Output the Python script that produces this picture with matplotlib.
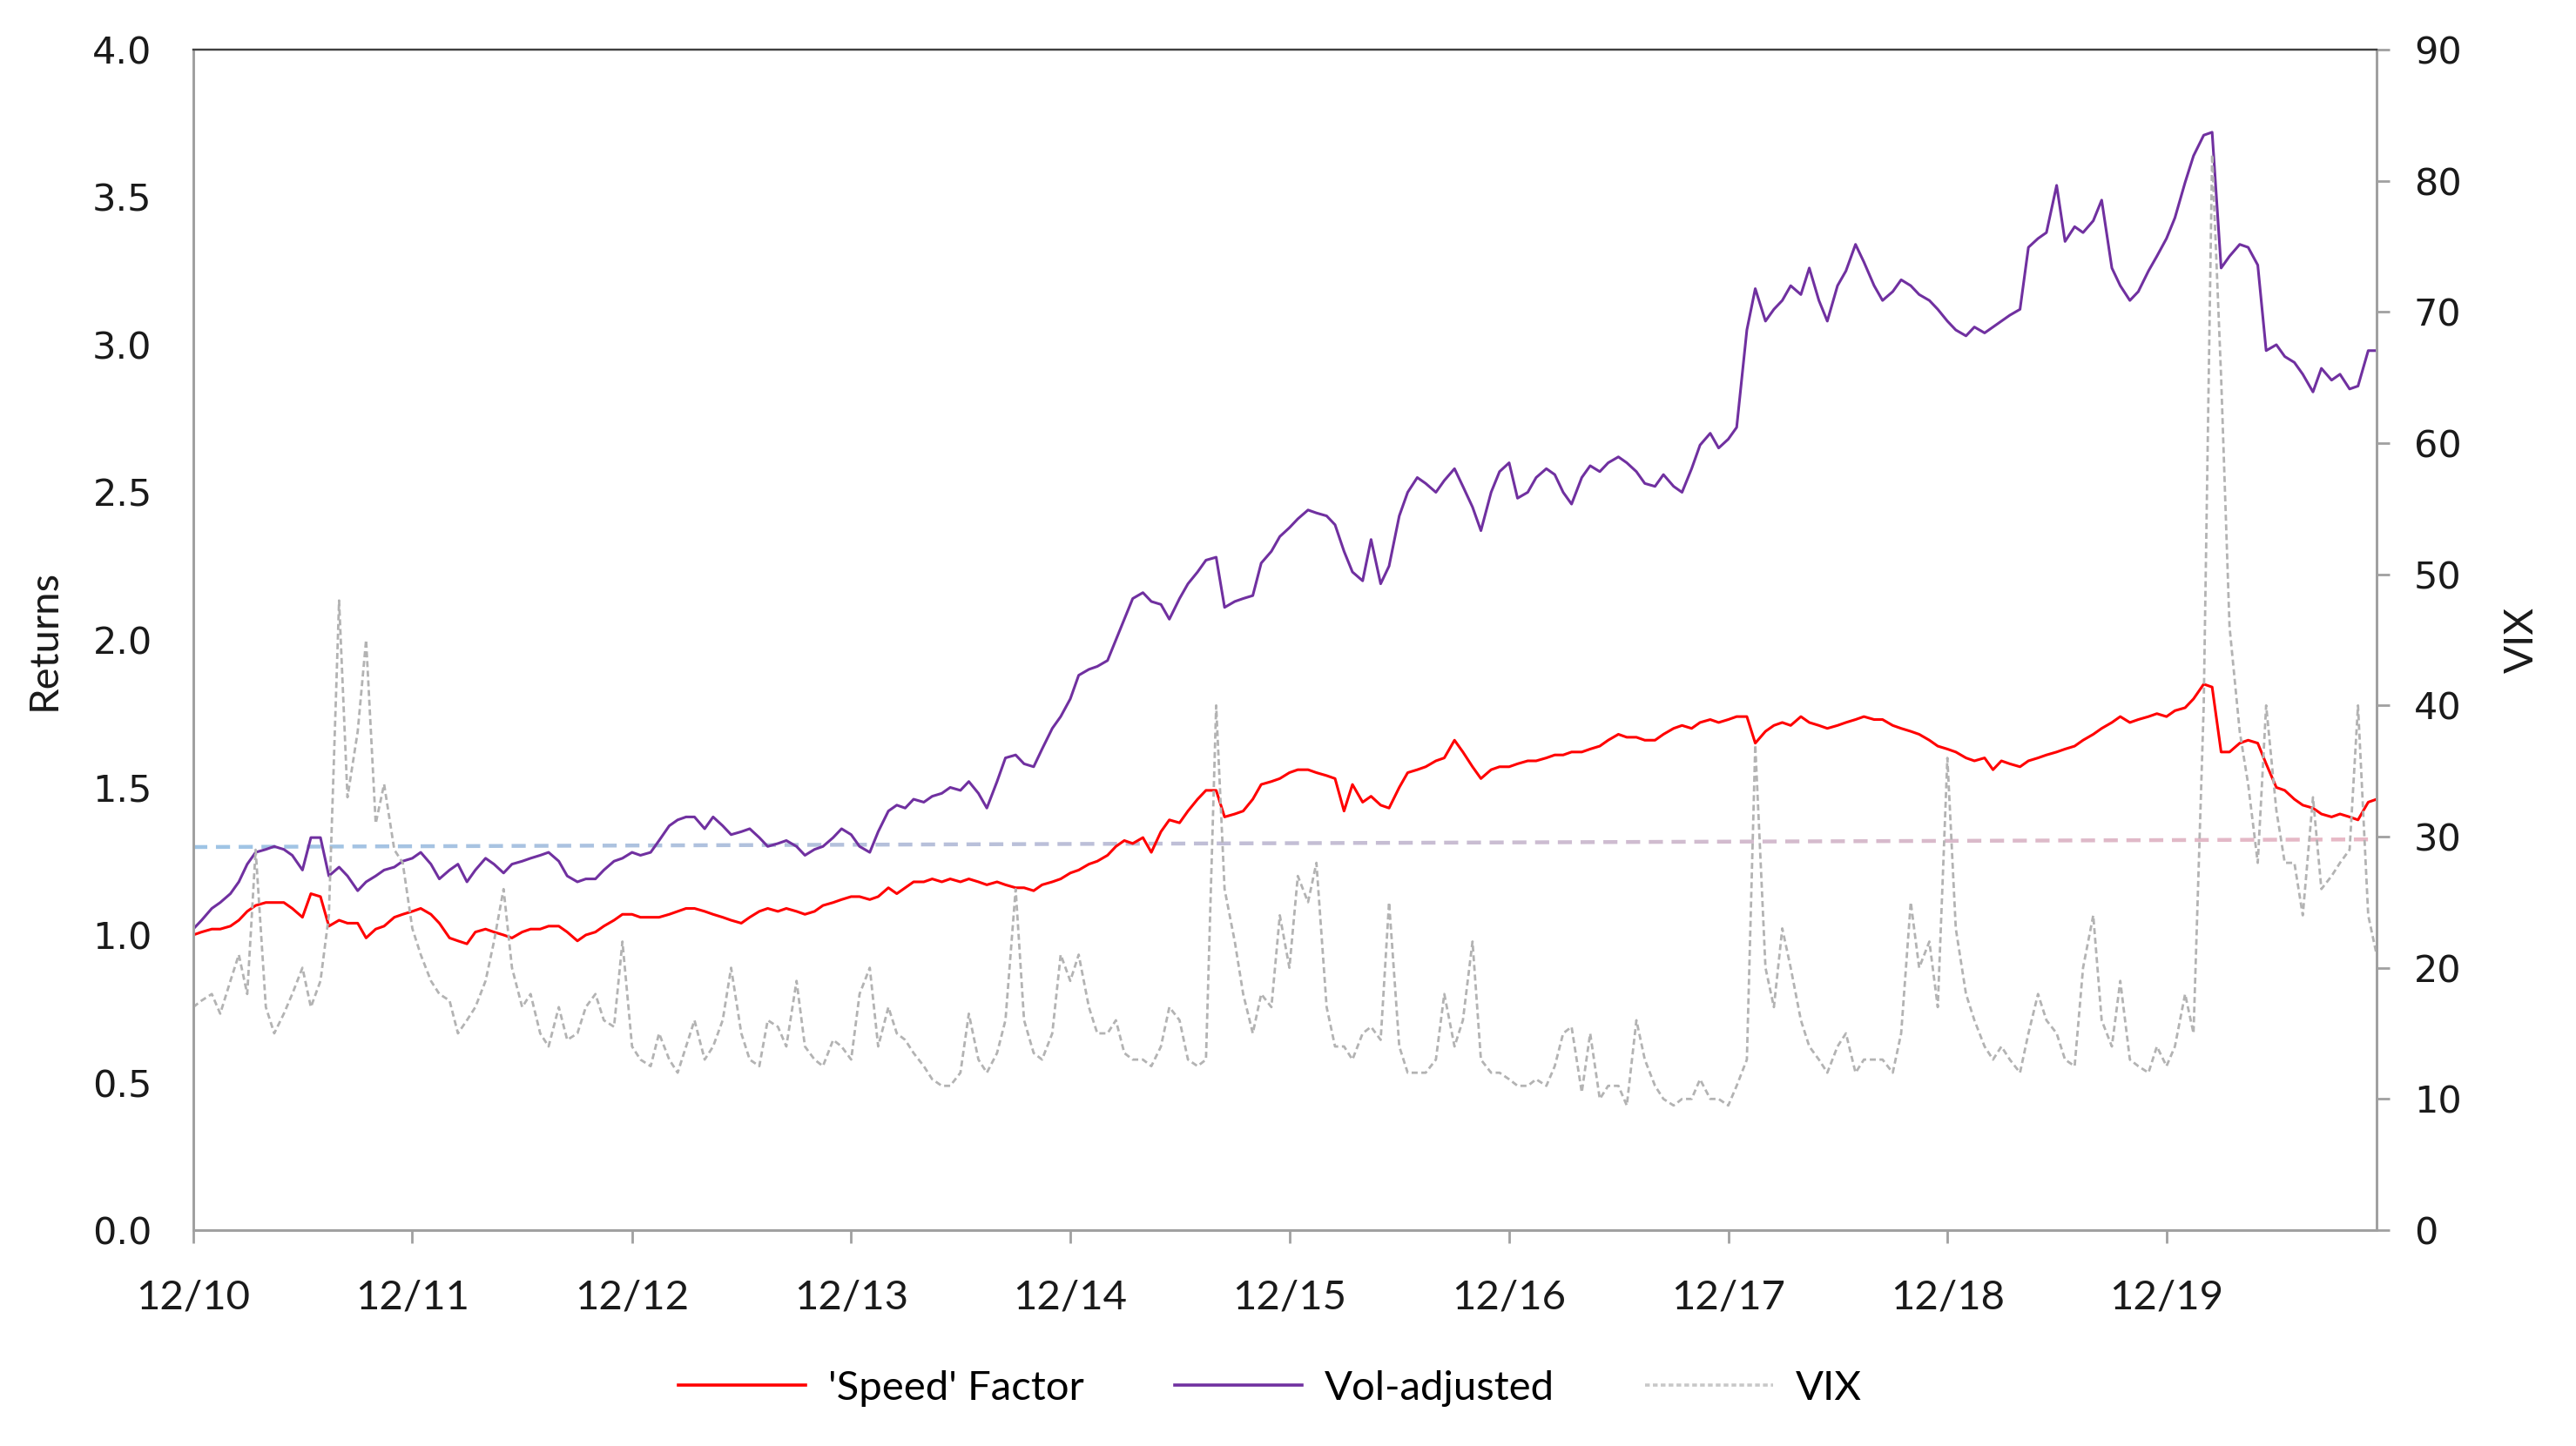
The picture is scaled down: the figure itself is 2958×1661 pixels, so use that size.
import matplotlib
matplotlib.use("Agg")
import matplotlib.pyplot as plt
from matplotlib.collections import LineCollection
from matplotlib.lines import Line2D
import numpy as np
import pandas as pd

# ---------------- data (semi-monthly readings, Dec 2010 - Nov 2020) ----------------
dates = pd.date_range("2010-12-01", periods=240, freq="SMS")

speed_factor = [
    1.00, 1.01, 1.02, 1.02, 1.03, 1.05, 1.08, 1.10, 1.11, 1.11, 1.11, 1.09, 1.06, 1.14, 1.13, 1.03, 1.05, 1.04, 1.04, 0.99, 1.02, 1.03, 1.06, 1.07,
    1.08, 1.09, 1.07, 1.04, 0.99, 0.98, 0.97, 1.01, 1.02, 1.01, 1.00, 0.99, 1.01, 1.02, 1.02, 1.03, 1.03, 1.01, 0.98, 1.00, 1.01, 1.03, 1.05, 1.07,
    1.07, 1.06, 1.06, 1.06, 1.07, 1.08, 1.09, 1.09, 1.08, 1.07, 1.06, 1.05, 1.04, 1.06, 1.08, 1.09, 1.08, 1.09, 1.08, 1.07, 1.08, 1.10, 1.11, 1.12,
    1.13, 1.13, 1.12, 1.13, 1.16, 1.14, 1.16, 1.18, 1.18, 1.19, 1.18, 1.19, 1.18, 1.19, 1.18, 1.17, 1.18, 1.17, 1.16, 1.16, 1.15, 1.17, 1.18, 1.19,
    1.21, 1.22, 1.24, 1.25, 1.27, 1.30, 1.32, 1.31, 1.33, 1.28, 1.35, 1.39, 1.38, 1.42, 1.46, 1.49, 1.49, 1.40, 1.41, 1.42, 1.46, 1.51, 1.52, 1.53,
    1.55, 1.56, 1.56, 1.55, 1.54, 1.53, 1.42, 1.51, 1.45, 1.47, 1.44, 1.43, 1.50, 1.55, 1.56, 1.57, 1.59, 1.60, 1.66, 1.62, 1.57, 1.53, 1.56, 1.57,
    1.57, 1.58, 1.59, 1.59, 1.60, 1.61, 1.61, 1.62, 1.62, 1.63, 1.64, 1.66, 1.68, 1.67, 1.67, 1.66, 1.66, 1.68, 1.70, 1.71, 1.70, 1.72, 1.73, 1.72,
    1.73, 1.74, 1.74, 1.65, 1.69, 1.71, 1.72, 1.71, 1.74, 1.72, 1.71, 1.70, 1.71, 1.72, 1.73, 1.74, 1.73, 1.73, 1.71, 1.70, 1.69, 1.68, 1.66, 1.64,
    1.63, 1.62, 1.60, 1.59, 1.60, 1.56, 1.59, 1.58, 1.57, 1.59, 1.60, 1.61, 1.62, 1.63, 1.64, 1.66, 1.68, 1.70, 1.72, 1.74, 1.72, 1.73, 1.74, 1.75,
    1.74, 1.76, 1.77, 1.80, 1.85, 1.84, 1.62, 1.62, 1.65, 1.66, 1.65, 1.58, 1.50, 1.49, 1.46, 1.44, 1.43, 1.41, 1.40, 1.41, 1.40, 1.39, 1.45, 1.46,
]

vol_adjusted = [
    1.02, 1.05, 1.09, 1.11, 1.14, 1.18, 1.24, 1.28, 1.29, 1.30, 1.29, 1.27, 1.22, 1.33, 1.33, 1.20, 1.23, 1.20, 1.15, 1.18, 1.20, 1.22, 1.23, 1.25,
    1.26, 1.28, 1.24, 1.19, 1.22, 1.24, 1.18, 1.22, 1.26, 1.24, 1.21, 1.24, 1.25, 1.26, 1.27, 1.28, 1.25, 1.20, 1.18, 1.19, 1.19, 1.22, 1.25, 1.26,
    1.28, 1.27, 1.28, 1.32, 1.37, 1.39, 1.40, 1.40, 1.36, 1.40, 1.37, 1.34, 1.35, 1.36, 1.33, 1.30, 1.31, 1.32, 1.30, 1.27, 1.29, 1.30, 1.33, 1.36,
    1.34, 1.30, 1.28, 1.35, 1.42, 1.44, 1.43, 1.46, 1.45, 1.47, 1.48, 1.50, 1.49, 1.52, 1.48, 1.43, 1.52, 1.60, 1.61, 1.58, 1.57, 1.63, 1.70, 1.74,
    1.80, 1.88, 1.90, 1.91, 1.93, 2.00, 2.07, 2.14, 2.16, 2.13, 2.12, 2.07, 2.14, 2.19, 2.23, 2.27, 2.28, 2.11, 2.13, 2.14, 2.15, 2.26, 2.30, 2.35,
    2.38, 2.41, 2.44, 2.43, 2.42, 2.39, 2.30, 2.23, 2.20, 2.34, 2.19, 2.25, 2.42, 2.50, 2.55, 2.53, 2.50, 2.54, 2.58, 2.52, 2.45, 2.37, 2.50, 2.57,
    2.60, 2.48, 2.50, 2.55, 2.58, 2.56, 2.50, 2.46, 2.55, 2.59, 2.57, 2.60, 2.62, 2.60, 2.57, 2.53, 2.52, 2.56, 2.52, 2.50, 2.58, 2.66, 2.70, 2.65,
    2.68, 2.72, 3.05, 3.19, 3.08, 3.12, 3.15, 3.20, 3.17, 3.26, 3.15, 3.08, 3.20, 3.25, 3.34, 3.28, 3.20, 3.15, 3.18, 3.22, 3.20, 3.17, 3.15, 3.12,
    3.08, 3.05, 3.03, 3.06, 3.04, 3.06, 3.08, 3.10, 3.12, 3.33, 3.36, 3.38, 3.54, 3.35, 3.40, 3.38, 3.42, 3.49, 3.26, 3.20, 3.15, 3.18, 3.25, 3.30,
    3.36, 3.43, 3.55, 3.64, 3.71, 3.72, 3.26, 3.30, 3.34, 3.33, 3.27, 2.98, 3.00, 2.96, 2.94, 2.90, 2.84, 2.92, 2.88, 2.90, 2.85, 2.86, 2.98, 2.98,
]

vix = [
    17, 17.5, 18, 16.5, 19, 21, 18, 29, 17, 15, 16.5, 18, 20, 17, 19, 24, 48, 33, 38, 45, 31, 34, 29, 28,
    23, 21, 19, 18, 17.5, 15, 16, 17, 19, 22, 26, 20, 17, 18, 15, 14, 17, 14.5, 15, 17, 18, 16, 15.5, 22,
    14, 13, 12.5, 15, 13, 12, 14, 16, 13, 14, 16, 20, 15, 13, 12.5, 16, 15.5, 14, 19, 14, 13, 12.5, 14.5, 14,
    13, 18, 20, 14, 17, 15, 14.5, 13.5, 12.5, 11.5, 11, 11, 12, 16.5, 13, 12, 13.5, 16, 26, 16, 13.5, 13, 15, 21,
    19, 21, 17, 15, 15, 16, 13.5, 13, 13, 12.5, 14, 17, 16, 13, 12.5, 13, 40, 26, 22, 18, 15, 18, 17, 24,
    20, 27, 25, 28, 17, 14, 14, 13, 15, 15.5, 14.5, 25, 14, 12, 12, 12, 13, 18, 14, 16, 22, 13, 12, 12,
    11.5, 11, 11, 11.5, 11, 12.5, 15, 15.5, 10.5, 15, 10, 11, 11, 9.5, 16, 13, 11, 10, 9.5, 10, 10, 11.5, 10, 10,
    9.5, 11, 13, 37, 20, 17, 23, 20, 16, 14, 13, 12, 14, 15, 12, 13, 13, 13, 12, 15, 25, 20, 22, 17,
    36, 23, 18, 16, 14, 13, 14, 13, 12, 15, 18, 16, 15, 13, 12.5, 20, 24, 16, 14, 19, 13, 12.5, 12, 14,
    12.5, 14, 18, 15, 40, 82, 65, 46, 38, 34, 28, 40, 32, 28, 28, 24, 33, 26, 27, 28, 29, 40, 24, 21,
]

ref_line = [1.298, 1.324]          # faint dashed reference line (start, end)
year_ticks = pd.date_range("2010-12-01", periods=10, freq="12MS")
tick_labels = [d.strftime("%m/%y") for d in year_ticks]

# ---------------- figure ----------------
fig = plt.figure(figsize=(14.79, 8.305), dpi=200)
ax = fig.add_axes([0.075, 0.1493, 0.8476, 0.8164])
ax2 = ax.twinx()

red = "#ff0000"
purple = "#7030a0"
grey = "#b3b3b3"

# gradient dashed reference line (blue -> pink)
n_dash = 96
period = 1.0 / n_dash
c0 = np.array([0.62, 0.77, 0.90])
c1 = np.array([0.91, 0.72, 0.77])
segs, cols = [], []
for i in range(n_dash):
    xa = i * period
    xb = xa + period * 0.62
    ya = ref_line[0] + (ref_line[1] - ref_line[0]) * xa
    yb = ref_line[0] + (ref_line[1] - ref_line[0]) * xb
    segs.append([(xa, ya), (xb, yb)])
    f = (xa + xb) / 2
    cols.append(tuple(c0 * (1 - f) + c1 * f))
lc = LineCollection(segs, colors=cols, linewidths=1.6, transform=ax.get_yaxis_transform(), zorder=1)
ax.add_collection(lc)

ax.plot(dates, speed_factor, color=red, lw=1.1, zorder=3)
ax.plot(dates, vol_adjusted, color=purple, lw=1.1, zorder=3)
ax2.plot(dates, vix, color=grey, lw=1.0, linestyle=(0, (2.5, 1.5)), zorder=2)

# axes limits & ticks
ax.set_xlim(dates[0], dates[-1])
ax.set_ylim(0, 4.0)
ax2.set_ylim(0, 90)
ax.set_yticks(np.arange(0, 4.01, 0.5))
ax.set_yticklabels([f"{v:.1f}" for v in np.arange(0, 4.01, 0.5)], fontfamily="DejaVu Sans", fontsize=15.5)
ax2.set_yticks(np.arange(0, 91, 10))
ax2.set_yticklabels([str(v) for v in range(0, 91, 10)], fontfamily="DejaVu Sans", fontsize=15.5)
ax.set_xticks(year_ticks)
ax.set_xticklabels(tick_labels, fontfamily="Lato", fontsize=17)

spine_col = "#a0a0a0"
for a in (ax, ax2):
    for s in ("left", "bottom", "right"):
        a.spines[s].set_color(spine_col)
        a.spines[s].set_linewidth(1.0)
    a.spines["top"].set_color("#404040")
    a.spines["top"].set_linewidth(0.8)

ax.tick_params(axis="y", length=0, pad=17, colors="#1a1a1a")
ax.tick_params(axis="x", length=5.4, width=1.0, color=spine_col, pad=15, labelcolor="#1a1a1a", direction="out")
ax2.tick_params(axis="y", length=5.4, width=1.0, color=spine_col, pad=10, labelcolor="#1a1a1a", direction="out")

ax.set_ylabel("Returns", fontfamily="Lato", fontsize=17, color="#1a1a1a")
ax.yaxis.set_label_coords(-0.060, 0.5)
ax2.set_ylabel("VIX", fontfamily="Lato", fontsize=17, color="#1a1a1a", rotation=90)
ax2.yaxis.set_label_coords(1.058, 0.5)

# legend
handles = [
    Line2D([], [], color=red, lw=1.3),
    Line2D([], [], color=purple, lw=1.3),
    Line2D([], [], color="#c8c8c8", lw=1.3, linestyle=(0, (1.5, 1.0))),
]
labels = ["'Speed' Factor", "Vol-adjusted", "VIX"]
fig.legend(handles, labels, loc="center", bbox_to_anchor=(0.493, 0.040), ncol=3, frameon=False,
           handlelength=3.1, columnspacing=2.2, handletextpad=0.55,
           prop={"family": "Lato", "size": 17})

fig.savefig("out.png", dpi=200, facecolor="white")
